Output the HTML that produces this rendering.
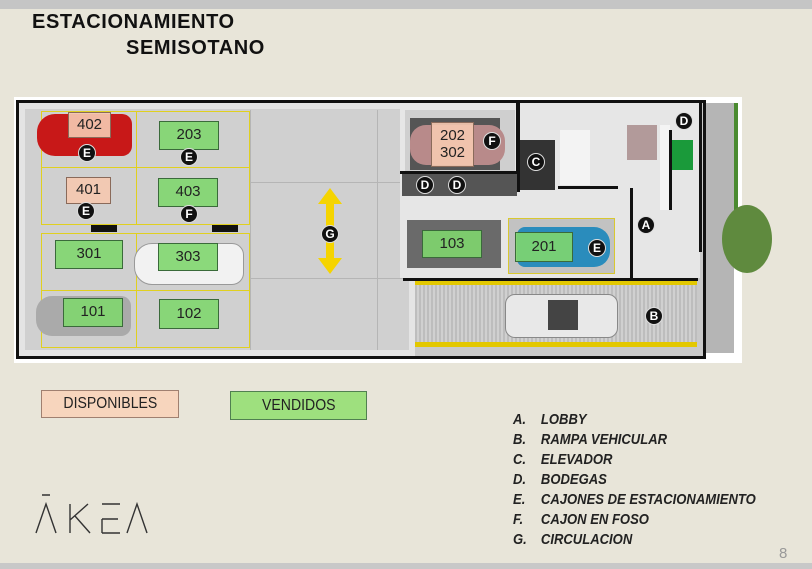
<!DOCTYPE html>
<html><head><meta charset="utf-8"><style>
*{margin:0;padding:0;box-sizing:border-box}
body{width:812px;height:569px;background:#e8e5d9;position:relative;overflow:hidden;font-family:"Liberation Sans",sans-serif}
.a{position:absolute}
.lbl{position:absolute;border:1px solid #3a6a3a;background:rgba(128,214,110,.9);font-size:15px;color:#222;display:flex;align-items:center;justify-content:center;line-height:1.1;text-align:center}
.pk{background:rgba(244,200,176,.92);border-color:#8a6a5a}
.c{position:absolute;width:18px;height:18px;border-radius:50%;background:#111;border:1.5px solid #ddd;color:#fff;font-size:12px;font-weight:bold;display:flex;align-items:center;justify-content:center;transform:translate(-9px,-9px)}
.y{position:absolute;border:1.5px solid #e0d020}
.w{position:absolute;background:#111}
.li{position:absolute;left:513px;font-weight:bold;font-style:italic;font-size:14.5px;color:#222;white-space:nowrap;transform:scaleX(0.9);transform-origin:0 0}
.li span{display:inline-block;width:31px}
</style></head><body>
<div class="a" style="left:0;top:0;width:812px;height:9px;background:#c5c5c5"></div>
<div class="a" style="left:0;top:563px;width:812px;height:6px;background:#c8c8c8"></div>
<div class="a" style="left:32px;top:11px;font-weight:bold;font-size:20px;letter-spacing:0.6px;color:#111">ESTACIONAMIENTO</div>
<div class="a" style="left:126px;top:37px;font-weight:bold;font-size:20px;letter-spacing:0.6px;color:#111">SEMISOTANO</div>

<!-- plan -->
<div class="a" style="left:14px;top:97px;width:728px;height:266px;background:#fff"></div>
<div class="a" style="left:16px;top:100px;width:690px;height:259px;border:3px solid #111;background:#c9c9c9"></div>
<div class="a" style="left:19px;top:103px;width:396px;height:253px;background:#d0d0d0;border:6px solid #e4e4e4"></div>
<div class="a" style="left:250px;top:110px;width:1px;height:240px;background:#b5b5b5"></div>
<div class="a" style="left:377px;top:110px;width:1px;height:240px;background:#b5b5b5"></div>
<div class="a" style="left:250px;top:182px;width:160px;height:1px;background:#b5b5b5"></div>
<div class="a" style="left:250px;top:278px;width:160px;height:1px;background:#b5b5b5"></div>
<!-- yellow grid -->
<div class="y" style="left:41px;top:111px;width:96px;height:57px"></div>
<div class="y" style="left:136px;top:111px;width:114px;height:57px"></div>
<div class="y" style="left:41px;top:167px;width:96px;height:58px"></div>
<div class="y" style="left:136px;top:167px;width:114px;height:58px"></div>
<div class="y" style="left:41px;top:233px;width:96px;height:58px"></div>
<div class="y" style="left:136px;top:233px;width:114px;height:58px"></div>
<div class="y" style="left:41px;top:290px;width:96px;height:58px"></div>
<div class="y" style="left:136px;top:290px;width:114px;height:58px"></div>
<div class="a" style="left:91px;top:225px;width:26px;height:7px;background:#111"></div>
<div class="a" style="left:212px;top:225px;width:26px;height:7px;background:#111"></div>
<!-- cars -->
<div class="a" style="left:37px;top:114px;width:95px;height:42px;background:#c81818;border-radius:18px 10px 10px 18px"></div>
<div class="a" style="left:134px;top:243px;width:110px;height:42px;background:#f2f2f2;border-radius:18px 12px 12px 18px;border:1px solid #999"></div>
<div class="a" style="left:36px;top:296px;width:95px;height:40px;background:#aaa;border-radius:16px 10px 10px 16px"></div>
<div class="lbl pk" style="left:68px;top:112px;width:43px;height:26px">402</div>
<div class="lbl" style="left:159px;top:121px;width:60px;height:29px">203</div>
<div class="lbl pk" style="left:66px;top:177px;width:45px;height:27px">401</div>
<div class="lbl" style="left:158px;top:178px;width:60px;height:29px">403</div>
<div class="lbl" style="left:55px;top:240px;width:68px;height:29px">301</div>
<div class="lbl" style="left:158px;top:243px;width:60px;height:28px">303</div>
<div class="lbl" style="left:63px;top:298px;width:60px;height:29px">101</div>
<div class="lbl" style="left:159px;top:299px;width:60px;height:30px">102</div>
<div class="c" style="left:87px;top:153px">E</div>
<div class="c" style="left:189px;top:157px">E</div>
<div class="c" style="left:86px;top:211px">E</div>
<div class="c" style="left:189px;top:214px">F</div>
<!-- G arrow -->
<svg class="a" style="left:318px;top:188px" width="24" height="86"><polygon points="12,0 24,16 16,16 16,70 24,70 12,86 0,70 8,70 8,16 0,16" fill="#f5d400"/></svg>
<div class="c" style="left:330px;top:234px">G</div>

<!-- right section -->
<div class="a" style="left:400px;top:103px;width:300px;height:175px;background:#e6e6e6"></div>
<div class="a" style="left:405px;top:110px;width:110px;height:72px;background:#cfcfcf"></div>
<div class="a" style="left:410px;top:118px;width:90px;height:52px;background:#555"></div>
<div class="a" style="left:410px;top:125px;width:95px;height:40px;background:#b88a8a;border-radius:16px"></div>
<div class="lbl pk" style="left:431px;top:122px;width:43px;height:45px">202<br>302</div>
<div class="c" style="left:492px;top:141px">F</div>
<div class="w" style="left:516px;top:100px;width:4px;height:92px"></div>
<div class="w" style="left:400px;top:171px;width:120px;height:3px"></div>
<div class="a" style="left:402px;top:174px;width:115px;height:22px;background:#555"></div>
<div class="a" style="left:520px;top:140px;width:35px;height:50px;background:#333"></div>
<div class="c" style="left:536px;top:162px">C</div>
<div class="c" style="left:425px;top:185px">D</div>
<div class="c" style="left:457px;top:185px">D</div>
<div class="a" style="left:560px;top:130px;width:30px;height:55px;background:#f3f3f3"></div>
<div class="w" style="left:558px;top:186px;width:60px;height:3px"></div>
<div class="a" style="left:627px;top:125px;width:30px;height:35px;background:#b29a9a"></div>
<div class="a" style="left:660px;top:125px;width:10px;height:85px;background:#f4f4f4"></div>
<div class="a" style="left:671px;top:140px;width:22px;height:30px;background:#1a9a3a"></div>
<div class="w" style="left:669px;top:130px;width:3px;height:80px"></div>
<div class="w" style="left:699px;top:102px;width:3px;height:150px"></div>
<div class="w" style="left:630px;top:188px;width:3px;height:90px"></div>
<div class="c" style="left:684px;top:121px">D</div>
<div class="a" style="left:706px;top:103px;width:28px;height:250px;background:#b5b5b5"></div>
<div class="a" style="left:734px;top:103px;width:4px;height:120px;background:#4a8a30"></div>
<div class="a" style="left:722px;top:205px;width:50px;height:68px;border-radius:50%;background:#5f8a3e"></div>
<div class="a" style="left:407px;top:220px;width:94px;height:48px;background:#6a6a6a"></div>
<div class="lbl" style="left:422px;top:230px;width:60px;height:28px">103</div>
<div class="a" style="left:508px;top:218px;width:107px;height:56px;border:1.5px solid #d8c830;background:#c2c2c2"></div>
<div class="a" style="left:517px;top:227px;width:93px;height:40px;background:#2a8cbc;border-radius:8px 16px 16px 8px"></div>
<div class="lbl" style="left:515px;top:232px;width:58px;height:30px">201</div>
<div class="c" style="left:597px;top:248px">E</div>
<div class="c" style="left:646px;top:225px">A</div>
<!-- ramp -->
<div class="w" style="left:403px;top:278px;width:295px;height:3px"></div>
<div class="a" style="left:415px;top:283px;width:282px;height:62px;background:repeating-linear-gradient(90deg,#bdbdbd 0 2px,#d0d0d0 2px 4px)"></div>
<div class="a" style="left:415px;top:281px;width:282px;height:4px;background:#e3c800"></div>
<div class="a" style="left:415px;top:342px;width:282px;height:5px;background:#e3c800"></div>
<div class="a" style="left:505px;top:294px;width:113px;height:44px;background:#e8e8e8;border-radius:10px;border:1px solid #888"></div>
<div class="a" style="left:548px;top:300px;width:30px;height:30px;background:#444"></div>
<div class="c" style="left:654px;top:316px">B</div>

<!-- legend -->
<div class="a" style="left:41px;top:390px;width:138px;height:28px;background:#f7d5bd;border:1px solid #a08070;font-size:16px;display:flex;align-items:center;justify-content:center;color:#222"><span style="display:inline-block;transform:scaleX(0.88)">DISPONIBLES</span></div>
<div class="a" style="left:230px;top:391px;width:137px;height:29px;background:#9ee07e;border:1px solid #508050;font-size:16px;display:flex;align-items:center;justify-content:center;color:#222"><span style="display:inline-block;transform:scaleX(0.88)">VENDIDOS</span></div>
<div class="li" style="top:412px"><span>A.</span>LOBBY</div>
<div class="li" style="top:432px"><span>B.</span>RAMPA VEHICULAR</div>
<div class="li" style="top:452px"><span>C.</span>ELEVADOR</div>
<div class="li" style="top:472px"><span>D.</span>BODEGAS</div>
<div class="li" style="top:492px"><span>E.</span>CAJONES DE ESTACIONAMIENTO</div>
<div class="li" style="top:512px"><span>F.</span>CAJON EN FOSO</div>
<div class="li" style="top:532px"><span>G.</span>CIRCULACION</div>
<svg class="a" style="left:34px;top:492px" width="115" height="44" fill="none" stroke="#333" stroke-width="1.4">
<path d="M2,41 L12,12 L22,41 M8,3 L16,3"/>
<path d="M36,12 L36,41 M36,28 L54,12 M41,24 L56,41"/>
<path d="M68,12 L86,12 M68,27 L84,27 M68,41 L86,41 M68,27 L68,41"/>
<path d="M93,41 L103,12 L113,41"/>
</svg>
<div class="a" style="left:779px;top:545px;font-size:15px;color:#999">8</div>
</body></html>
